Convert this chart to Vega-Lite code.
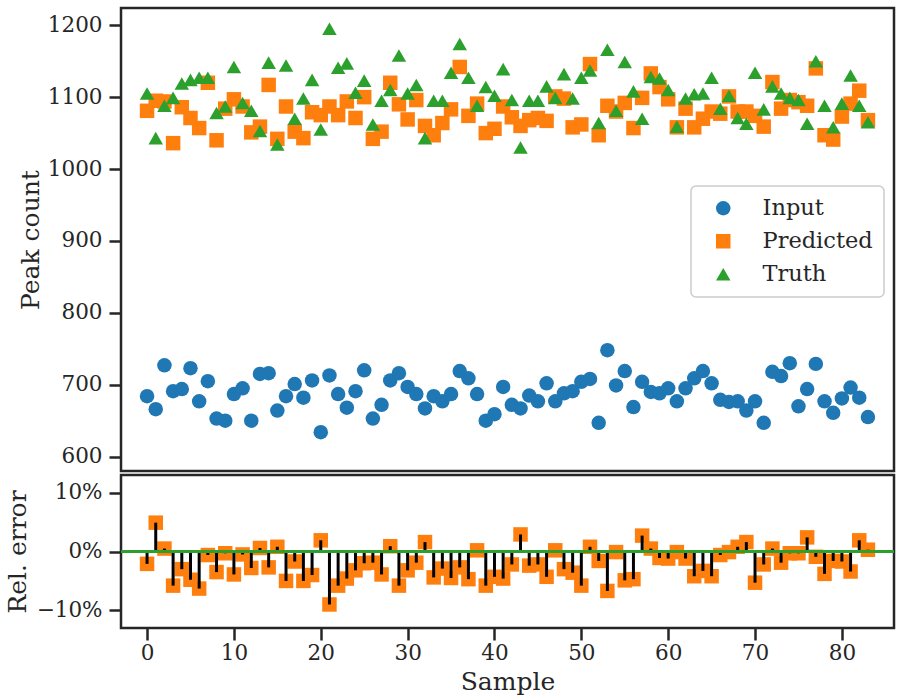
{
  "$schema": "https://vega.github.io/schema/vega-lite/v6.json",
  "padding": {"left": 3, "top": 6, "right": 5, "bottom": 5},
  "spacing": 0,
  "datasets": {
    "samples": [
      {"sample": 0, "Input": 684, "Predicted": 1081, "Truth": 1105, "rel": -0.021},
      {"sample": 1, "Input": 666, "Predicted": 1095, "Truth": 1043, "rel": 0.049},
      {"sample": 2, "Input": 727, "Predicted": 1094, "Truth": 1088, "rel": 0.005},
      {"sample": 3, "Input": 691, "Predicted": 1036, "Truth": 1099, "rel": -0.058},
      {"sample": 4, "Input": 694, "Predicted": 1086, "Truth": 1119, "rel": -0.030},
      {"sample": 5, "Input": 723, "Predicted": 1071, "Truth": 1124, "rel": -0.048},
      {"sample": 6, "Input": 677, "Predicted": 1057, "Truth": 1127, "rel": -0.063},
      {"sample": 7, "Input": 705, "Predicted": 1120, "Truth": 1127, "rel": -0.006},
      {"sample": 8, "Input": 653, "Predicted": 1040, "Truth": 1078, "rel": -0.035},
      {"sample": 9, "Input": 650, "Predicted": 1084, "Truth": 1087, "rel": -0.003},
      {"sample": 10, "Input": 687, "Predicted": 1097, "Truth": 1142, "rel": -0.039},
      {"sample": 11, "Input": 695, "Predicted": 1087, "Truth": 1092, "rel": -0.005},
      {"sample": 12, "Input": 650, "Predicted": 1051, "Truth": 1081, "rel": -0.028},
      {"sample": 13, "Input": 715, "Predicted": 1059, "Truth": 1053, "rel": 0.006},
      {"sample": 14, "Input": 716, "Predicted": 1117, "Truth": 1148, "rel": -0.027},
      {"sample": 15, "Input": 664, "Predicted": 1042, "Truth": 1034, "rel": 0.008},
      {"sample": 16, "Input": 684, "Predicted": 1087, "Truth": 1144, "rel": -0.050},
      {"sample": 17, "Input": 701, "Predicted": 1052, "Truth": 1070, "rel": -0.017},
      {"sample": 18, "Input": 682, "Predicted": 1043, "Truth": 1098, "rel": -0.050},
      {"sample": 19, "Input": 706, "Predicted": 1079, "Truth": 1124, "rel": -0.040},
      {"sample": 20, "Input": 634, "Predicted": 1075, "Truth": 1055, "rel": 0.019},
      {"sample": 21, "Input": 713, "Predicted": 1087, "Truth": 1195, "rel": -0.090},
      {"sample": 22, "Input": 687, "Predicted": 1075, "Truth": 1141, "rel": -0.058},
      {"sample": 23, "Input": 668, "Predicted": 1094, "Truth": 1147, "rel": -0.046},
      {"sample": 24, "Input": 691, "Predicted": 1071, "Truth": 1106, "rel": -0.032},
      {"sample": 25, "Input": 720, "Predicted": 1100, "Truth": 1123, "rel": -0.020},
      {"sample": 26, "Input": 653, "Predicted": 1042, "Truth": 1062, "rel": -0.019},
      {"sample": 27, "Input": 672, "Predicted": 1052, "Truth": 1095, "rel": -0.039},
      {"sample": 28, "Input": 706, "Predicted": 1120, "Truth": 1110, "rel": 0.009},
      {"sample": 29, "Input": 716, "Predicted": 1090, "Truth": 1158, "rel": -0.058},
      {"sample": 30, "Input": 697, "Predicted": 1069, "Truth": 1105, "rel": -0.032},
      {"sample": 31, "Input": 687, "Predicted": 1096, "Truth": 1117, "rel": -0.019},
      {"sample": 32, "Input": 667, "Predicted": 1060, "Truth": 1043, "rel": 0.016},
      {"sample": 33, "Input": 684, "Predicted": 1047, "Truth": 1095, "rel": -0.044},
      {"sample": 34, "Input": 677, "Predicted": 1064, "Truth": 1095, "rel": -0.029},
      {"sample": 35, "Input": 687, "Predicted": 1083, "Truth": 1134, "rel": -0.045},
      {"sample": 36, "Input": 719, "Predicted": 1142, "Truth": 1174, "rel": -0.027},
      {"sample": 37, "Input": 709, "Predicted": 1074, "Truth": 1127, "rel": -0.047},
      {"sample": 38, "Input": 687, "Predicted": 1091, "Truth": 1088, "rel": 0.002},
      {"sample": 39, "Input": 650, "Predicted": 1050, "Truth": 1114, "rel": -0.058},
      {"sample": 40, "Input": 659, "Predicted": 1056, "Truth": 1102, "rel": -0.043},
      {"sample": 41, "Input": 697, "Predicted": 1087, "Truth": 1139, "rel": -0.046},
      {"sample": 42, "Input": 672, "Predicted": 1072, "Truth": 1096, "rel": -0.022},
      {"sample": 43, "Input": 667, "Predicted": 1060, "Truth": 1030, "rel": 0.029},
      {"sample": 44, "Input": 685, "Predicted": 1068, "Truth": 1095, "rel": -0.024},
      {"sample": 45, "Input": 677, "Predicted": 1071, "Truth": 1095, "rel": -0.022},
      {"sample": 46, "Input": 702, "Predicted": 1067, "Truth": 1115, "rel": -0.043},
      {"sample": 47, "Input": 677, "Predicted": 1101, "Truth": 1099, "rel": 0.002},
      {"sample": 48, "Input": 688, "Predicted": 1098, "Truth": 1132, "rel": -0.030},
      {"sample": 49, "Input": 691, "Predicted": 1058, "Truth": 1098, "rel": -0.036},
      {"sample": 50, "Input": 704, "Predicted": 1062, "Truth": 1127, "rel": -0.058},
      {"sample": 51, "Input": 708, "Predicted": 1146, "Truth": 1137, "rel": 0.008},
      {"sample": 52, "Input": 647, "Predicted": 1047, "Truth": 1064, "rel": -0.016},
      {"sample": 53, "Input": 748, "Predicted": 1088, "Truth": 1166, "rel": -0.067},
      {"sample": 54, "Input": 699, "Predicted": 1080, "Truth": 1081, "rel": -0.001},
      {"sample": 55, "Input": 719, "Predicted": 1092, "Truth": 1149, "rel": -0.049},
      {"sample": 56, "Input": 669, "Predicted": 1057, "Truth": 1108, "rel": -0.047},
      {"sample": 57, "Input": 704, "Predicted": 1099, "Truth": 1070, "rel": 0.027},
      {"sample": 58, "Input": 690, "Predicted": 1133, "Truth": 1128, "rel": 0.005},
      {"sample": 59, "Input": 688, "Predicted": 1114, "Truth": 1126, "rel": -0.011},
      {"sample": 60, "Input": 695, "Predicted": 1097, "Truth": 1110, "rel": -0.012},
      {"sample": 61, "Input": 677, "Predicted": 1058, "Truth": 1059, "rel": -0.001},
      {"sample": 62, "Input": 695, "Predicted": 1084, "Truth": 1098, "rel": -0.012},
      {"sample": 63, "Input": 709, "Predicted": 1058, "Truth": 1104, "rel": -0.042},
      {"sample": 64, "Input": 719, "Predicted": 1070, "Truth": 1105, "rel": -0.033},
      {"sample": 65, "Input": 702, "Predicted": 1080, "Truth": 1127, "rel": -0.042},
      {"sample": 66, "Input": 679, "Predicted": 1077, "Truth": 1084, "rel": -0.006},
      {"sample": 67, "Input": 676, "Predicted": 1101, "Truth": 1102, "rel": -0.001},
      {"sample": 68, "Input": 677, "Predicted": 1080, "Truth": 1071, "rel": 0.008},
      {"sample": 69, "Input": 664, "Predicted": 1080, "Truth": 1063, "rel": 0.016},
      {"sample": 70, "Input": 677, "Predicted": 1074, "Truth": 1134, "rel": -0.053},
      {"sample": 71, "Input": 647, "Predicted": 1059, "Truth": 1083, "rel": -0.022},
      {"sample": 72, "Input": 718, "Predicted": 1121, "Truth": 1115, "rel": 0.005},
      {"sample": 73, "Input": 712, "Predicted": 1084, "Truth": 1105, "rel": -0.019},
      {"sample": 74, "Input": 730, "Predicted": 1096, "Truth": 1099, "rel": -0.003},
      {"sample": 75, "Input": 670, "Predicted": 1093, "Truth": 1096, "rel": -0.003},
      {"sample": 76, "Input": 694, "Predicted": 1088, "Truth": 1063, "rel": 0.024},
      {"sample": 77, "Input": 729, "Predicted": 1140, "Truth": 1150, "rel": -0.009},
      {"sample": 78, "Input": 677, "Predicted": 1047, "Truth": 1088, "rel": -0.038},
      {"sample": 79, "Input": 661, "Predicted": 1041, "Truth": 1058, "rel": -0.016},
      {"sample": 80, "Input": 681, "Predicted": 1073, "Truth": 1091, "rel": -0.017},
      {"sample": 81, "Input": 696, "Predicted": 1091, "Truth": 1130, "rel": -0.034},
      {"sample": 82, "Input": 682, "Predicted": 1109, "Truth": 1088, "rel": 0.019},
      {"sample": 83, "Input": 655, "Predicted": 1068, "Truth": 1065, "rel": 0.003}
    ]
  },
  "vconcat": [
    {
      "width": 773,
      "height": 463,
      "data": {"name": "samples"},
      "transform": [{"fold": ["Input", "Predicted", "Truth"], "as": ["series", "count"]}],
      "mark": {"type": "point", "filled": true, "size": 210, "opacity": 1},
      "encoding": {
        "x": {
          "field": "sample",
          "type": "quantitative",
          "scale": {"domain": [-3, 86], "nice": false, "zero": false},
          "axis": null
        },
        "y": {
          "field": "count",
          "type": "quantitative",
          "scale": {"domain": [580, 1224], "nice": false, "zero": false},
          "axis": {"values": [600, 700, 800, 900, 1000, 1100, 1200], "format": "d", "title": "Peak count", "titlePadding": 4}
        },
        "color": {
          "field": "series",
          "type": "nominal",
          "scale": {"domain": ["Input", "Predicted", "Truth"], "range": ["#1f77b4", "#ff7f0e", "#2ca02c"]},
          "legend": {"orient": "none", "legendX": 570, "legendY": 178, "title": null}
        },
        "shape": {
          "field": "series",
          "type": "nominal",
          "scale": {"domain": ["Input", "Predicted", "Truth"], "range": ["circle", "square", "triangle-up"]},
          "legend": {"orient": "none", "legendX": 570, "legendY": 178, "title": null}
        },
        "order": {"field": "series", "type": "nominal", "sort": "ascending"}
      }
    },
    {
      "width": 773,
      "height": 153,
      "data": {"name": "samples"},
      "encoding": {
        "x": {
          "field": "sample",
          "type": "quantitative",
          "scale": {"domain": [-3, 86], "nice": false, "zero": false},
          "axis": {"values": [0, 10, 20, 30, 40, 50, 60, 70, 80], "title": "Sample", "labelPadding": 2, "titlePadding": 6}
        }
      },
      "layer": [
        {
          "mark": {"type": "point", "shape": "square", "filled": true, "size": 210, "color": "#ff7f0e", "opacity": 1},
          "encoding": {
            "y": {
              "field": "rel",
              "type": "quantitative",
              "scale": {"domain": [-0.13, 0.13], "nice": false, "zero": false},
              "axis": {
                "values": [-0.1, -0.05, 0, 0.05, 0.1],
                "format": ".0%",
                "labelExpr": "abs(datum.value) > 0.07 || datum.value == 0 ? datum.label : ''",
                "tickSize": {"condition": {"test": "abs(datum.value) > 0.02 && abs(datum.value) < 0.07", "value": 7}, "value": 12},
                "title": "Rel. error",
                "titlePadding": 6
              }
            }
          }
        },
        {
          "mark": {"type": "rule", "color": "#000000", "strokeWidth": 3},
          "encoding": {
            "y": {"field": "rel", "type": "quantitative"},
            "y2": {"datum": 0}
          }
        },
        {
          "data": {"values": [{"base": 0}]},
          "mark": {"type": "rule", "color": "#2ca02c", "strokeWidth": 3},
          "encoding": {"x": null, "y": {"field": "base", "type": "quantitative"}}
        }
      ]
    }
  ],
  "config": {
    "font": "DejaVu Serif",
    "view": {"stroke": "#262626", "strokeWidth": 2.5},
    "axis": {
      "domain": false,
      "grid": false,
      "ticks": true,
      "tickColor": "#262626",
      "tickWidth": 2.5,
      "tickSize": 12,
      "labelPadding": 7,
      "labelFont": "DejaVu Serif",
      "labelFontSize": 21.5,
      "labelColor": "#262626",
      "titleFont": "DejaVu Serif",
      "titleFontSize": 25,
      "titleFontWeight": "normal",
      "titleColor": "#262626"
    },
    "legend": {
      "strokeColor": "#cccccc",
      "strokeWidth": 1.5,
      "cornerRadius": 5,
      "fillColor": "#ffffff",
      "padding": 11,
      "symbolOffset": 10,
      "labelOffset": 28,
      "rowPadding": 10,
      "symbolSize": 210,
      "symbolStrokeWidth": 0,
      "labelFont": "DejaVu Serif",
      "labelFontSize": 22.5,
      "labelColor": "#262626"
    }
  }
}
